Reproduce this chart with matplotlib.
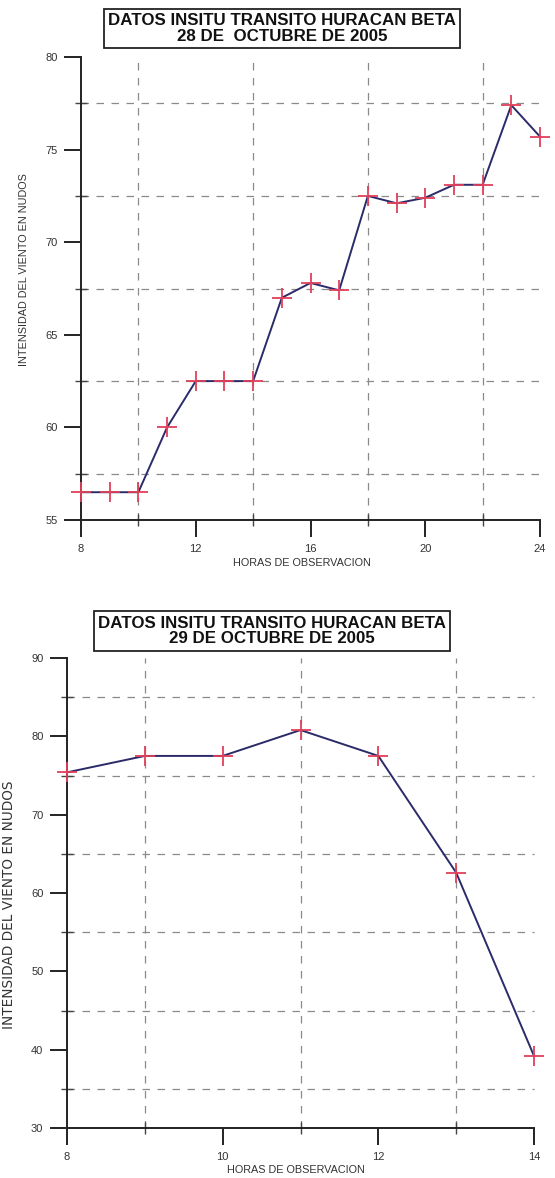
import matplotlib
matplotlib.use("Agg")
import matplotlib.pyplot as plt
from matplotlib.ticker import FixedLocator

# ---- data ----
hours_28 = [8, 9, 10, 11, 12, 13, 14, 15, 16, 17, 18, 19, 20, 21, 22, 23, 24]
wind_28 = [56.5, 56.5, 56.5, 60.0, 62.5, 62.5, 62.5, 67.0, 67.8, 67.4, 72.5, 72.1, 72.4, 73.1, 73.1, 77.4, 75.7]
hours_29 = [8, 9, 10, 11, 12, 13, 14]
wind_29 = [75.4, 77.5, 77.5, 80.8, 77.5, 62.6, 39.2]

xticks_28 = [8, 12, 16, 20, 24]
xminor_28 = [10, 14, 18, 22]
yticks_28 = [55, 60, 65, 70, 75, 80]
yminor_28 = [57.5, 62.5, 67.5, 72.5, 77.5]

xticks_29 = [8, 10, 12, 14]
xminor_29 = [9, 11, 13]
yticks_29 = [30, 40, 50, 60, 70, 80, 90]
yminor_29 = [35, 45, 55, 65, 75, 85]

title_28 = "DATOS INSITU TRANSITO HURACAN BETA\n28 DE  OCTUBRE DE 2005"
title_29 = "DATOS INSITU TRANSITO HURACAN BETA\n29 DE OCTUBRE DE 2005"
xlabel = "HORAS DE OBSERVACION"
ylabel = "INTENSIDAD DEL VIENTO EN NUDOS"

W, H = 555, 1178
fig = plt.figure(figsize=(W / 100, H / 100), dpi=100)
fig.patch.set_facecolor("white")

LINE = "#2a2b68"
MARK = "#e0405a"
GRID = "#8a8a8a"
FONT = ["Liberation Sans", "DejaVu Sans"]


def frac(x0, y0, x1, y1):
    return [x0 / W, 1 - y1 / H, (x1 - x0) / W, (y1 - y0) / H]


def style(ax, x, y, xt, xm, yt, ym, xlim, ylim):
    ax.plot(x, y, color=LINE, lw=1.4, zorder=3)
    ax.plot(x, y, ls="none", marker="+", ms=15, mew=1.3, color=MARK, zorder=4)
    ax.set_xlim(*xlim)
    ax.set_ylim(*ylim)
    ax.xaxis.set_major_locator(FixedLocator(xt))
    ax.xaxis.set_minor_locator(FixedLocator(xm))
    ax.yaxis.set_major_locator(FixedLocator(yt))
    ax.yaxis.set_minor_locator(FixedLocator(ym))
    ax.set_xticklabels([str(v) for v in xt])
    ax.set_yticklabels([str(v) for v in yt])
    for s in ["top", "right"]:
        ax.spines[s].set_visible(False)
    for s in ["left", "bottom"]:
        ax.spines[s].set_linewidth(1.4)
        ax.spines[s].set_color("#222222")
    ax.tick_params(which="major", length=12, width=1.4, direction="out",
                   color="#222222", labelsize=8, pad=5, labelcolor="#333333")
    ax.tick_params(which="minor", length=8, width=1.0, direction="inout",
                   color="#444444")
    ax.grid(False)
    for v in xm:
        ax.axvline(v, color=GRID, lw=0.9, ls=(0, (6, 6)), zorder=1)
    for v in ym:
        ax.axhline(v, color=GRID, lw=0.9, ls=(0, (6, 6)), zorder=1)
    for lab in ax.get_xticklabels() + ax.get_yticklabels():
        lab.set_family(FONT)
    for ln in ax.lines:
        ln.set_clip_on(False)


# top chart
ax1 = fig.add_axes(frac(81, 57, 540, 520))
style(ax1, hours_28, wind_28, xticks_28, xminor_28, yticks_28, yminor_28,
      (8, 24), (55, 80))

# bottom chart
ax2 = fig.add_axes(frac(67, 658, 534, 1128))
style(ax2, hours_29, wind_29, xticks_29, xminor_29, yticks_29, yminor_29,
      (8, 14), (30, 90))

box = dict(boxstyle="square,pad=0.25", facecolor="white", edgecolor="#222222", linewidth=1.3)
fig.text(282 / W, 1 - 28.5 / H, title_28, ha="center", va="center", fontsize=12.2,
         fontweight="bold", family=FONT, linespacing=1.05, bbox=box, color="#111111")
fig.text(272 / W, 1 - 631 / H, title_29, ha="center", va="center", fontsize=12.2,
         fontweight="bold", family=FONT, linespacing=1.05, bbox=box, color="#111111")

fig.text(302 / W, 1 - 563 / H, xlabel, ha="center", va="center", fontsize=7.8,
         family=FONT, color="#333333")
fig.text(296 / W, 1 - 1170 / H, xlabel, ha="center", va="center", fontsize=7.8,
         family=FONT, color="#333333")
fig.text(24 / W, 1 - 270 / H, ylabel, ha="center", va="center", rotation=90,
         fontsize=7.8, family=FONT, color="#333333")
fig.text(9.5 / W, 1 - 905 / H, ylabel, ha="center", va="center", rotation=90,
         fontsize=9.8, family=["DejaVu Sans"], color="#333333")

fig.savefig("out.png", dpi=100, facecolor="white")
